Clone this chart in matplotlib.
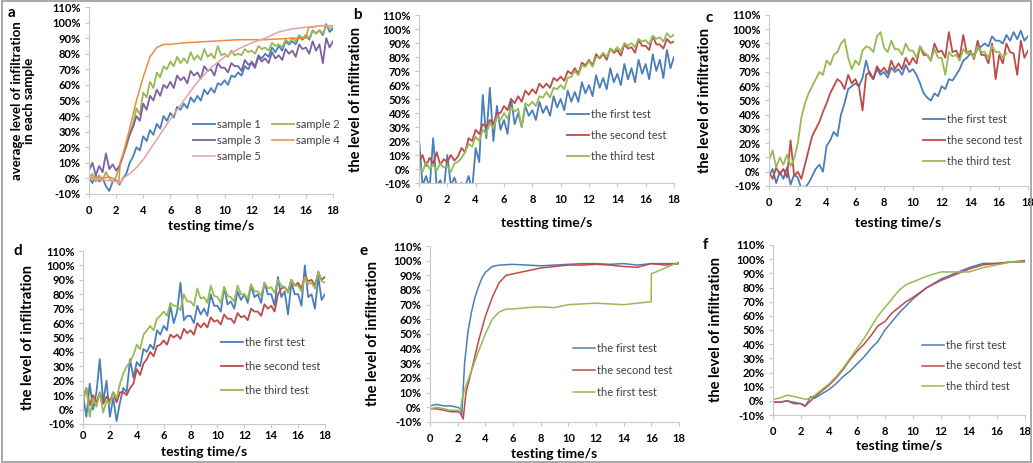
import numpy as np
import matplotlib
matplotlib.use("Agg")
from matplotlib import pyplot as plt
from matplotlib.patches import Rectangle
from matplotlib.ticker import FuncFormatter

plt.rcParams['font.family'] = ['Lato', 'DejaVu Sans']

BLUE = '#4A7EBB'
RED = '#BE4B48'
GREEN = '#98B954'
PURPLE = '#7D60A0'
ORANGE = '#F08A3C'
PINK = '#E6A2A2'

# time grid of the noisy records (0.25 s)
t_noisy = np.arange(73) * 0.25

# ---- panel a ----
a_sample1 = [1, -3, 2, -2, 0, -5, -8, -2, -1, -4, 0, 3, 10, 14, 20, 18,
             27, 24, 31, 28, 35, 32, 40, 37, 42, 39, 46, 44, 48, 45, 52, 49,
             53, 50, 57, 54, 58, 55, 61, 60, 63, 60, 66, 65, 68, 66, 72, 70,
             75, 72, 79, 77, 80, 78, 84, 81, 85, 82, 88, 86, 88, 86, 91, 89,
             92, 89, 95, 93, 95, 92, 99, 94, 96]
a_sample2 = [0, 3, -2, 2, -1, 4, 0, -2, 1, 8, 15, 20, 28, 35, 45, 41,
             55, 52, 62, 58, 68, 65, 72, 70, 75, 72, 78, 74, 77, 74, 81, 76,
             79, 76, 83, 78, 80, 77, 85, 79, 80, 78, 82, 79, 80, 79, 83, 81,
             82, 80, 85, 83, 84, 82, 87, 85, 86, 84, 89, 87, 90, 88, 92, 90,
             92, 90, 95, 93, 95, 93, 98, 96, 97]
a_sample3 = [5, 10, 2, 8, 4, 16, 6, 9, 5, 8, 14, 22, 28, 33, 40, 37,
             48, 44, 53, 50, 57, 53, 60, 58, 62, 58, 66, 63, 65, 61, 69, 66,
             68, 64, 72, 69, 70, 66, 74, 71, 71, 68, 74, 72, 72, 69, 76, 73,
             74, 71, 78, 75, 77, 74, 81, 77, 79, 76, 83, 80, 82, 78, 86, 83,
             84, 80, 88, 82, 86, 74, 90, 84, 88]
a_t4 = [0, 0.5, 1, 1.5, 2, 2.2, 2.3, 2.5, 3, 3.5, 4, 4.5, 5, 5.5, 6, 7, 8, 9,
        10, 11, 12, 13, 14, 15, 16, 16.2, 16.5, 17, 18]
a_sample4 = [0, 1, 0, 1, -1, -3, 10, 15, 32, 50, 65, 78, 84, 86, 86, 87, 87.5,
             88, 88.5, 89, 89, 89, 89.5, 90, 90, 97, 97, 98, 98]
a_t5 = [0, 1, 2, 2.3, 2.5, 3, 3.5, 4, 5, 6, 7, 8, 9, 10, 11, 12, 13, 14, 15,
        16, 17, 18]
a_sample5 = [0, -1, -2, -3, 0, 3, 7, 12, 25, 38, 50, 62, 71, 78, 83, 87, 90,
             94, 96, 97, 98, 98]

# ---- panel b ----
b_first = [22, -12, -5, -14, 22, -13, -8, -15, 10, -12, -6, -14, -10, -13, -5, -15,
           15, 5, 53, 22, 58, 20, 45, 28, 35, 25, 50, 32, 40, 30, 45, 38,
           42, 35, 48, 40, 45, 38, 52, 44, 50, 42, 56, 48, 55, 48, 62, 54,
           60, 52, 67, 58, 65, 57, 72, 62, 68, 60, 75, 64, 72, 62, 78, 68,
           75, 64, 82, 70, 78, 65, 85, 72, 80]
b_second = [5, 10, 2, 8, 4, 12, 3, 7, 5, 10, 6, 9, 15, 12, 22, 20,
            28, 25, 32, 30, 35, 32, 40, 40, 45, 42, 50, 47, 52, 48, 56, 53,
            57, 54, 61, 58, 61, 58, 65, 63, 66, 63, 70, 68, 72, 68, 76, 74,
            78, 74, 82, 79, 82, 78, 86, 83, 85, 81, 89, 86, 87, 83, 92, 88,
            88, 85, 95, 89, 89, 86, 93, 90, 91]
b_third = [2, -2, 5, 0, 3, -1, 4, 1, 2, -2, 4, 5, 8, 12, 18, 16,
           23, 20, 28, 25, 33, 29, 37, 35, 40, 36, 44, 41, 43, 30, 47, 45,
           48, 45, 52, 51, 55, 51, 58, 57, 60, 57, 65, 66, 70, 67, 74, 73,
           77, 73, 80, 80, 83, 80, 86, 84, 87, 84, 90, 88, 90, 87, 93, 91,
           92, 89, 95, 93, 94, 91, 97, 94, 96]

# ---- panel c ----
c_first = [-3, 2, -8, 0, -5, 3, -9, -2, -4, -12, -11, -8, -3, 2, 5, 0,
           18, 22, 28, 25, 40, 48, 58, 60, 62, 60, 66, 78, 68, 65, 72, 68,
           70, 66, 73, 70, 72, 68, 75, 70, 72, 68, 62, 55, 52, 50, 55, 53,
           60, 58, 65, 64, 68, 72, 78, 80, 83, 82, 86, 88, 90, 88, 95, 92,
           92, 90, 96, 92, 98, 93, 99, 92, 95]
c_second = [0, -5, 3, -2, 2, -4, 22, -3, 0, -5, 5, 15, 25, 30, 35, 42,
            48, 55, 60, 65, 63, 58, 68, 62, 65, 60, 43, 68, 70, 65, 74, 70,
            73, 69, 78, 72, 76, 72, 80, 75, 80, 76, 88, 82, 82, 78, 90, 84,
            85, 80, 98, 84, 85, 80, 96, 83, 85, 79, 92, 82, 82, 76, 90, 65,
            82, 76, 90, 84, 83, 68, 92, 80, 85]
c_third = [8, 15, 3, 10, 5, 12, 4, 9, 20, 38, 48, 55, 60, 65, 70, 68,
           78, 75, 82, 84, 90, 93, 80, 72, 78, 75, 85, 88, 87, 84, 95, 98,
           87, 84, 92, 86, 86, 82, 90, 85, 85, 80, 88, 84, 82, 78, 86, 80,
           80, 68, 84, 81, 82, 78, 86, 83, 84, 80, 88, 84, 84, 80, 88, 84,
           84, 80, 83, np.nan, np.nan, np.nan, np.nan, np.nan, np.nan]

# ---- panel d ----
d_first = [10, -5, 18, 0, 12, 35, 5, 20, -5, 8, -8, 5, 15, 12, 35, 22,
           33, 30, 42, 40, 45, 42, 55, 52, 58, 55, 72, 60, 68, 88, 62, 65,
           65, 60, 72, 66, 70, 65, 80, 72, 72, 68, 85, 73, 75, 70, 82, 76,
           80, 74, 86, 78, 80, 74, 88, 80, 80, 72, 92, 78, 82, 66, 88, 80,
           80, 72, 100, 78, 80, 70, 92, 76, 80]
d_second = [8, 15, 3, 10, 5, 12, 4, 9, 6, 12, 5, 12, 12, 10, 15, 18,
            28, 24, 32, 35, 40, 37, 44, 45, 48, 45, 52, 50, 52, 49, 56, 53,
            55, 52, 60, 57, 60, 57, 64, 61, 62, 59, 66, 63, 63, 60, 67, 64,
            65, 62, 70, 68, 68, 65, 73, 70, 72, 68, 80, 84, 85, 82, 90, 86,
            88, 84, 93, 89, 90, 86, 95, 90, 92]
d_third = [5, 15, -5, 8, 2, 12, -2, 6, 4, 12, 8, 18, 25, 30, 33, 38,
           45, 42, 52, 55, 58, 55, 63, 65, 68, 65, 74, 72, 72, 69, 80, 75,
           75, 72, 84, 77, 78, 74, 86, 79, 78, 74, 85, 79, 78, 75, 86, 80,
           80, 77, 87, 82, 82, 79, 88, 84, 85, 81, 90, 86, 85, 81, 90, 86,
           86, 82, 92, 87, 88, 84, 96, 89, 88]

# ---- panel e ----
e_t1 = [0, 0.5, 1, 1.5, 2, 2.2, 2.3, 2.5, 2.75, 3, 3.25, 3.5, 3.75, 4, 4.5, 5,
        6, 7, 8, 9, 10, 11, 12, 13, 14, 15, 16, 17, 18]
e_first = [1, 2, 1, 1, 0, -1, -5, 30, 52, 65, 75, 82, 88, 92, 96, 97, 97.5,
           97, 96.5, 97, 97.5, 98, 98, 97.5, 98, 97, 98, 98, 98]
e_t2 = [0, 0.5, 1, 1.5, 2, 2.2, 2.4, 2.6, 3, 3.5, 4, 4.5, 5, 5.5, 6, 7, 8, 9,
        10, 11, 12, 13, 14, 15, 16, 17, 18]
e_second = [-1, -1, -2, -3, -3, -4, -8, 10, 25, 45, 62, 75, 85, 90, 91, 93,
            95, 96, 97, 97, 97.5, 97, 96, 95.5, 98, 97, 98]
e_t3 = [0, 0.5, 1, 1.5, 2, 2.2, 2.3, 2.5, 3, 3.5, 4, 4.5, 5, 5.5, 6, 7, 8, 9,
        10, 11, 12, 13, 14, 15, 15.99, 16.0, 16.5, 17, 17.5, 18]
e_third = [-1, 0, -1, -2, -2, -3, 5, 12, 25, 38, 50, 60, 65, 67, 67, 68, 68.5,
           68, 70, 70.5, 71, 70.5, 70, 71, 72, 91, 93, 95, 97, 99]

# ---- panel f ----
f_t = [0, 0.5, 1, 1.5, 2, 2.3, 2.7, 3, 3.5, 4, 4.5, 5, 5.5, 6, 6.5, 7, 7.5,
       8, 8.5, 9, 9.5, 10, 11, 12, 13, 14, 15, 16, 17, 18]
f_first = [-1, -1, 0, -1, -2, -4, 3, 2, 5, 8, 12, 17, 21, 26, 31, 37, 42,
           50, 56, 62, 67, 72, 80, 86, 90, 94, 97, 97, 98, 98]
f_second = [-1, -1, 0, -2, -2, -3.5, 0, 3, 7, 11, 16, 22, 29, 35, 40, 46, 53,
            56, 62, 66, 70, 73, 80, 85, 89, 93, 96, 97, 98, 99]
f_third = [1, 2, 4, 3, 2, 1, 2, 4, 8, 12, 17, 23, 30, 37, 44, 52, 60,
           66, 72, 78, 82, 84, 88, 91, 91, 91, 94, 96, 98, 98]

test_labels = ['the first test', 'the second test', 'the third test']

fig = plt.figure(figsize=(10.33, 4.63), dpi=100)


def style_axes(ax, xlabel, ylabel, letter, letter_xy, ylabel_x, xlabel_y,
               ylab_size=10.5):
    ax.set_xlim(0, 18)
    ax.set_ylim(-10, 110)
    ax.set_xticks(range(0, 19, 2))
    ax.set_yticks(range(-10, 111, 10))
    ax.yaxis.set_major_formatter(FuncFormatter(lambda v, p: f"{v:.0f}%"))
    for s in ['top', 'right']:
        ax.spines[s].set_visible(False)
    for s in ['left', 'bottom']:
        ax.spines[s].set_color('#C8C8C8')
        ax.spines[s].set_linewidth(0.8)
    ax.tick_params(axis='both', colors='#C8C8C8', length=3, width=0.8,
                   labelcolor='black', labelsize=8)
    ax.tick_params(axis='y', pad=3)
    ax.tick_params(axis='x', pad=5)
    for lab in ax.get_xticklabels() + ax.get_yticklabels():
        lab.set_fontweight('bold')
    ax.set_xlabel(xlabel, fontsize=10, fontweight='bold')
    ax.xaxis.set_label_coords(0.5, xlabel_y)
    ax.set_ylabel(ylabel, fontsize=ylab_size, fontweight='bold', linespacing=1.05)
    ax.yaxis.set_label_coords(ylabel_x, 0.5)
    fig.text(letter_xy[0] / 1033, 1 - letter_xy[1] / 463, letter,
             fontsize=11, fontweight='bold', va='center', ha='left')


def add_legend(ax, anchor_px, ncol=1, spacing=0.9, handles=None):
    if handles is None:
        handles, _ = ax.get_legend_handles_labels()
    leg = ax.legend(handles=handles, loc='upper left', ncol=ncol, frameon=False,
                    bbox_to_anchor=(anchor_px[0] / 1033, 1 - anchor_px[1] / 463),
                    bbox_transform=fig.transFigure, borderpad=0, borderaxespad=0,
                    handlelength=2.0, handletextpad=0.15, columnspacing=1.0,
                    labelspacing=spacing, prop={'size': 8})
    for txt in leg.get_texts():
        txt.set_color('#404040')


lw = 1.3   # noisy records
lws = 1.1  # smooth records

# panel a
ax = fig.add_axes([89 / 1033, 1 - 194 / 463, 244 / 1033, 187 / 463])
h1, = ax.plot(t_noisy, a_sample1, color=BLUE, lw=lw, label='sample 1')
h2, = ax.plot(t_noisy, a_sample2, color=GREEN, lw=lw, label='sample 2')
h3, = ax.plot(t_noisy, a_sample3, color=PURPLE, lw=lw, label='sample 3')
h4, = ax.plot(a_t4, a_sample4, color=ORANGE, lw=lws, label='sample 4')
h5, = ax.plot(a_t5, a_sample5, color=PINK, lw=lws, label='sample 5')
style_axes(ax, 'testing time/s', 'average level of infiltration\nin each sample',
           'a', (8, 13), -0.22, -0.14, ylab_size=9.5)
# row-wise order like the original: (1, 2), (3, 4), (5)
add_legend(ax, (193, 119), ncol=2, spacing=0.45, handles=[h1, h3, h5, h2, h4])

# panel b
ax = fig.add_axes([419 / 1033, 1 - 183 / 463, 255 / 1033, 168 / 463])
ax.plot(t_noisy, b_first, color=BLUE, lw=lw, label=test_labels[0])
ax.plot(t_noisy, b_second, color=RED, lw=lw, label=test_labels[1])
ax.plot(t_noisy, b_third, color=GREEN, lw=lw, label=test_labels[2])
style_axes(ax, 'testting time/s', 'the level of infiltration',
           'b', (353, 15), -0.22, -0.2)
add_legend(ax, (567, 109))

# panel c
ax = fig.add_axes([769 / 1033, 1 - 186 / 463, 259 / 1033, 171 / 463])
ax.plot(t_noisy, c_first, color=BLUE, lw=lw, label=test_labels[0])
ax.plot(t_noisy, c_second, color=RED, lw=lw, label=test_labels[1])
ax.plot(t_noisy, c_third, color=GREEN, lw=lw, label=test_labels[2])
style_axes(ax, 'testing time/s', 'the level of infiltration',
           'c', (705, 18), -0.22, -0.18)
add_legend(ax, (923, 114))

# panel d
ax = fig.add_axes([83 / 1033, 1 - 424 / 463, 242 / 1033, 173 / 463])
ax.plot(t_noisy, d_first, color=BLUE, lw=lw, label=test_labels[0])
ax.plot(t_noisy, d_second, color=RED, lw=lw, label=test_labels[1])
ax.plot(t_noisy, d_third, color=GREEN, lw=lw, label=test_labels[2])
style_axes(ax, 'testing time/s', 'the level of infiltration',
           'd', (14, 251), -0.2, -0.13)
ax.tick_params(axis='x', pad=1)
add_legend(ax, (221, 337), spacing=1.15)

# panel e
ax = fig.add_axes([430 / 1033, 1 - 422 / 463, 249 / 1033, 176 / 463])
ax.plot(e_t1, e_first, color=BLUE, lw=lws, label=test_labels[0])
ax.plot(e_t2, e_second, color=RED, lw=lws, label=test_labels[1])
ax.plot(e_t3, e_third, color=GREEN, lw=lws, label=test_labels[0])
style_axes(ax, 'testing time/s', 'the level of infiltration',
           'e', (359, 251), -0.2, -0.15)
add_legend(ax, (573, 343), spacing=1.0)

# panel f
ax = fig.add_axes([773 / 1033, 1 - 415 / 463, 252 / 1033, 170 / 463])
ax.plot(f_t, f_first, color=BLUE, lw=lws, label=test_labels[0])
ax.plot(f_t, f_second, color=RED, lw=lws, label=test_labels[1])
ax.plot(f_t, f_third, color=GREEN, lw=lws, label=test_labels[2])
style_axes(ax, 'testing time/s', 'the level of infiltration',
           'f', (703, 245), -0.2, -0.15)
add_legend(ax, (922, 340), spacing=0.85)

# outer frame
fig.patches.append(Rectangle((0.002, 0.003), 0.996, 0.994, transform=fig.transFigure,
                             fill=False, edgecolor='#9A9A9A', linewidth=1.2))

fig.savefig('out.png', dpi=100)
